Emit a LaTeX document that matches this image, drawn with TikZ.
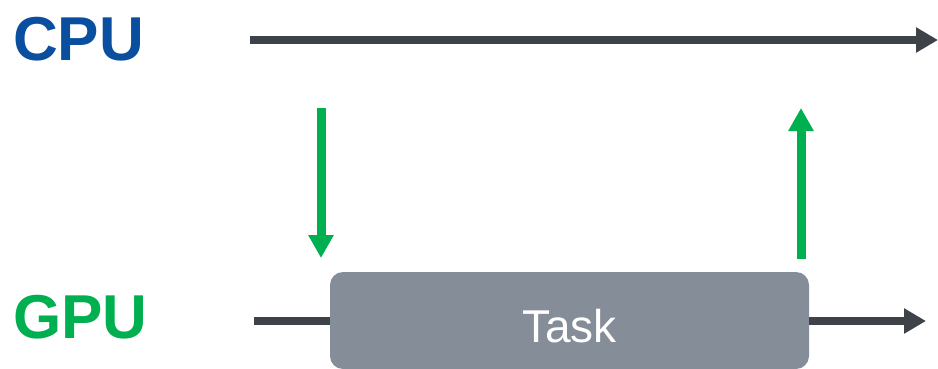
\documentclass[tikz,border=0pt]{standalone}
\usepackage{fontspec}
\setmainfont{Liberation Sans}
\usetikzlibrary{arrows.meta}
\definecolor{cpublue}{HTML}{0A4F9F}
\definecolor{gpugreen}{HTML}{00B050}
\definecolor{timeline}{HTML}{3E434A}
\definecolor{taskgray}{HTML}{858D99}
\tikzset{
  proclabel/.style={anchor=base west, inner sep=0pt, font=\fontsize{62}{62}\selectfont\bfseries},
  timeaxis/.style={draw=timeline, line width=8pt, -{Triangle[length=22pt,width=24pt]}},
  plainaxis/.style={draw=timeline, line width=8pt},
  sync/.style={draw=gpugreen, line width=9pt, -{Triangle[length=23pt,width=24pt]}},
  taskbox/.style={fill=taskgray, rounded corners=13pt, inner sep=0pt,
    minimum width=479pt, minimum height=97pt, text height=44pt, text depth=0pt,
    text=white, font=\fontsize{46}{46}\selectfont}
}
\begin{document}
\begin{tikzpicture}[x=1pt, y=-1pt]
  \useasboundingbox (0,0) rectangle (938,369);
  % processor labels
  \node[proclabel, text=cpublue] (cpu) at (13,61) {CPU};
  \node[proclabel, text=gpugreen] (gpu) at (13,338) {GPU};
  % CPU timeline
  \coordinate (cpuL) at (250,40);
  \coordinate (cpuR) at (938,40);
  \draw[timeaxis] (cpuL) -- (cpuR);
  % GPU task and timeline
  \node[taskbox] (task) at (569.5,320.5) {Task};
  \coordinate (gpuL) at (254,321);
  \coordinate (gpuR) at (926,321);
  \draw[plainaxis] (gpuL) -- (gpuL -| task.west);
  \draw[timeaxis] (gpuR -| task.east) -- (gpuR);
  % launch and completion signals
  \coordinate (launchTop) at (321,108);
  \coordinate (launchBot) at (321,258);
  \coordinate (doneBot) at (801,259);
  \coordinate (doneTop) at (801,108);
  \draw[sync] (launchTop) -- (launchBot);
  \draw[sync] (doneBot) -- (doneTop);
\end{tikzpicture}
\end{document}
